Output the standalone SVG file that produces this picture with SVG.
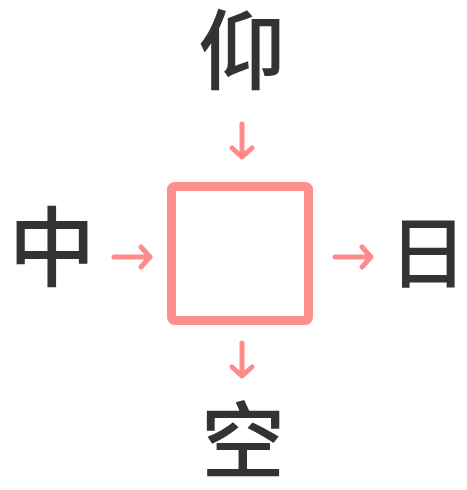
<svg xmlns="http://www.w3.org/2000/svg" width="467" height="490" viewBox="0 0 467 490">
<defs>
<style>
.ch{font-family:"Liberation Sans","Noto Sans CJK SC","Noto Sans CJK JP",sans-serif;font-size:87px;font-weight:500;fill:#333333;text-anchor:middle}
.ar{fill:none;stroke:#ff8a8a;stroke-width:5;stroke-linecap:round;stroke-linejoin:round}
</style>
</defs>
<rect width="467" height="490" fill="#ffffff"/>
<g id="center"><rect x="171.5" y="186.5" width="137" height="134" rx="3" fill="none" stroke="#ff8f8f" stroke-width="9"/></g>
<g id="top"><text class="ch" x="242" y="83">仰</text></g>
<g id="left"><text class="ch" x="52" y="280">中</text></g>
<g id="right"><text class="ch" x="428" y="282" style="font-size:78px">日</text></g>
<g id="bottom"><text class="ch" x="243" y="472" style="font-size:84px">空</text></g>
<g id="connectors">
<path class="ar" d="M242 124V157M232 148L242 157L252 148"/>
<path class="ar" d="M114 257H150M141 247L150 257L141 267"/>
<path class="ar" d="M335 257H371M362 247L371 257L362 267"/>
<path class="ar" d="M242 343V376M232 367L242 376L252 367"/>
</g>
</svg>
